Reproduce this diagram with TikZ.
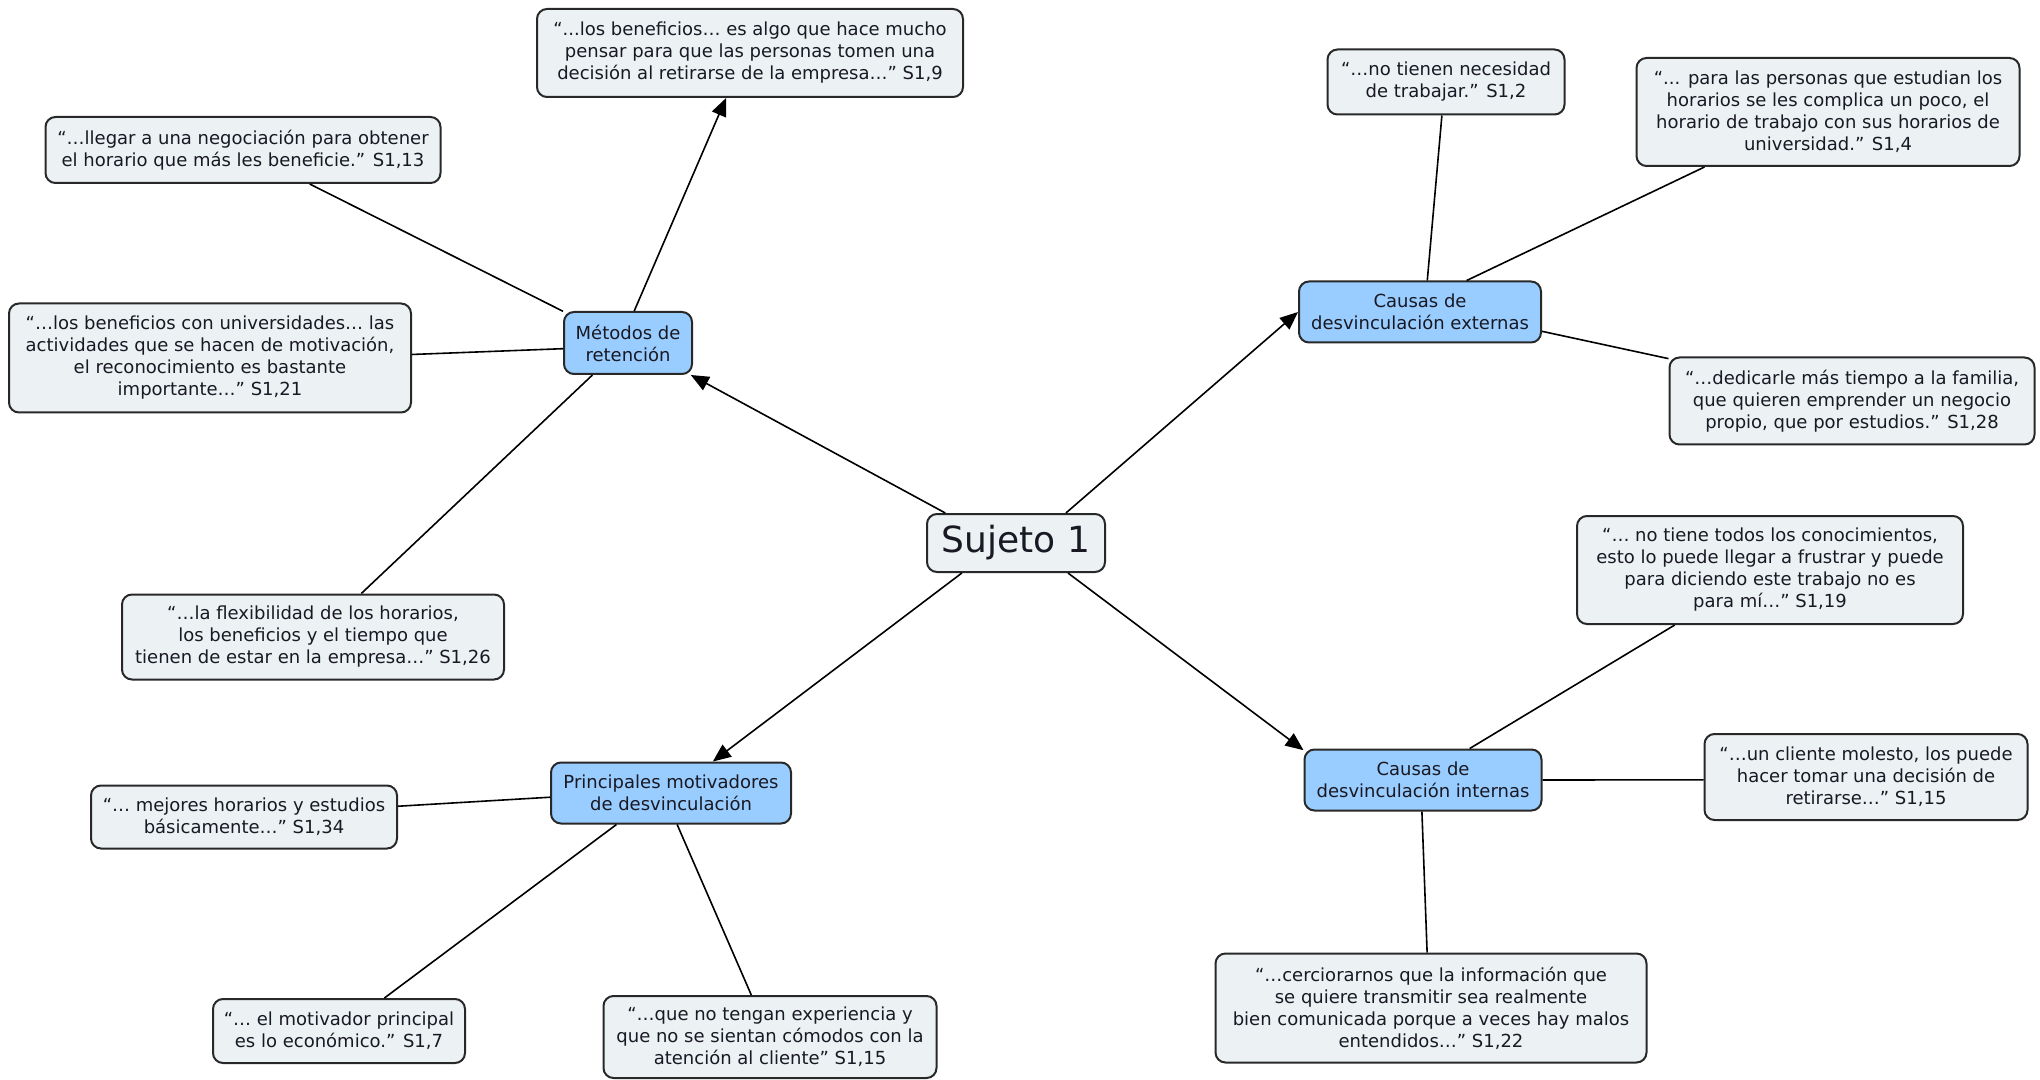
\documentclass[tikz,border=0pt]{standalone}
\usepackage{fontspec}
\setmainfont{DejaVu Sans}
\usetikzlibrary{arrows.meta}
\definecolor{quotefill}{RGB}{236,241,244}
\definecolor{catfill}{RGB}{153,204,255}
\definecolor{boxline}{RGB}{40,40,40}
\definecolor{inktext}{RGB}{25,25,35}
\begin{document}
\begin{tikzpicture}[x=0.5pt,y=-0.5pt,
  basebox/.style={draw=boxline, line width=1pt, rounded corners=5pt,
    align=center, inner sep=0pt, text=inktext,
    font=\fontsize{9}{11}\selectfont},
  quote/.style={basebox, fill=quotefill},
  cat/.style={basebox, fill=catfill},
  root/.style={basebox, fill=quotefill, font=\fontsize{18}{22}\selectfont},
  link/.style={draw=black, line width=0.8pt},
  arrowlink/.style={link, -{Triangle[length=9pt,width=7.5pt]}}]
\useasboundingbox (0,0) rectangle (2040,1080);

% central concept
\node[root, minimum width=89pt, minimum height=29pt] (suj) at (1016,543) {Sujeto 1};

% categories
\node[cat, minimum width=64pt, minimum height=31pt] (met) at (628,343) {Métodos de\\retención};
\node[cat, minimum width=121pt, minimum height=30.5pt] (ext) at (1420,312) {Causas de\\desvinculación externas};
\node[cat, minimum width=118.5pt, minimum height=30.5pt] (int) at (1423,780) {Causas de\\desvinculación internas};
\node[cat, minimum width=120pt, minimum height=30.5pt] (pri) at (671,793) {Principales motivadores\\de desvinculación};

% quotes around "Métodos de retención"
\node[quote, minimum width=213pt, minimum height=44pt] (q9) at (750,53)
  {“...los beneficios… es algo que hace mucho\\pensar para que las personas tomen una\\decisión al retirarse de la empresa…” S1,9};
\node[quote, minimum width=197.5pt, minimum height=33pt] (q13) at (243,150)
  {“…llegar a una negociación para obtener\\el horario que más les beneficie.” S1,13};
\node[quote, minimum width=201pt, minimum height=54.5pt] (q21) at (210,358)
  {“…los beneficios con universidades… las\\actividades que se hacen de motivación,\\el reconocimiento es bastante\\importante…” S1,21};
\node[quote, minimum width=191pt, minimum height=42.5pt] (q26) at (313,637)
  {“…la flexibilidad de los horarios,\\los beneficios y el tiempo que\\tienen de estar en la empresa…” S1,26};

% quotes around "Causas de desvinculación externas"
\node[quote, minimum width=118.5pt, minimum height=32.5pt] (q2) at (1446,82)
  {“…no tienen necesidad\\de trabajar.” S1,2};
\node[quote, minimum width=191.5pt, minimum height=54pt] (q4) at (1828,112)
  {“... para las personas que estudian los\\horarios se les complica un poco, el\\horario de trabajo con sus horarios de\\universidad.” S1,4};
\node[quote, minimum width=182.5pt, minimum height=43.5pt] (q28) at (1852,401)
  {“…dedicarle más tiempo a la familia,\\que quieren emprender un negocio\\propio, que por estudios.” S1,28};

% quotes around "Causas de desvinculación internas"
\node[quote, minimum width=193pt, minimum height=54pt] (q19) at (1770,570)
  {“… no tiene todos los conocimientos,\\esto lo puede llegar a frustrar y puede\\para diciendo este trabajo no es\\para mí…” S1,19};
\node[quote, minimum width=161.5pt, minimum height=43pt] (q15b) at (1866,777)
  {“…un cliente molesto, los puede\\hacer tomar una decisión de\\retirarse…” S1,15};
\node[quote, minimum width=215.5pt, minimum height=54.5pt] (q22) at (1431,1008)
  {“…cerciorarnos que la información que\\se quiere transmitir sea realmente\\bien comunicada porque a veces hay malos\\entendidos…” S1,22};

% quotes around "Principales motivadores de desvinculación"
\node[quote, minimum width=153pt, minimum height=31.5pt] (q34) at (244,817)
  {“… mejores horarios y estudios\\básicamente…” S1,34};
\node[quote, minimum width=126pt, minimum height=32pt] (q7) at (339,1031)
  {“… el motivador principal\\es lo económico.” S1,7};
\node[quote, minimum width=166.5pt, minimum height=41pt] (q15a) at (770,1037)
  {“…que no tengan experiencia y\\que no se sientan cómodos con la\\atención al cliente” S1,15};

% central concept to categories
\draw[arrowlink] (suj.157) -- (met.-27);
\draw[arrowlink] (suj.31) -- (ext.180);
\draw[arrowlink] (suj.-30) -- (int.166);
\draw[arrowlink] (suj.-151) -- (pri.37);

% Métodos de retención
\draw[arrowlink] (met.79) -- (q9.-118);
\draw[link] (met.154) -- (q13.-27);
\draw[link] (met.-175) -- (q21.1);
\draw[link] (met.-138) -- (q26.42);

% externas
\draw[link] (ext.77) -- (q2.-97);
\draw[link] (ext.34) -- (q4.-156);
\draw[link] (ext.-9.5) -- (q28.167.5);

% internas
\draw[link] (int.34) -- (q19.-150);
\draw[link] (int.0) -- (q15b.181);
\draw[link] (int.-92) -- (q22.94);

% principales motivadores
\draw[link] (pri.-178) -- (q34.4.5);
\draw[link] (pri.-150) -- (q7.36);
\draw[link] (pri.-79) -- (q15a.114);
\end{tikzpicture}
\end{document}
